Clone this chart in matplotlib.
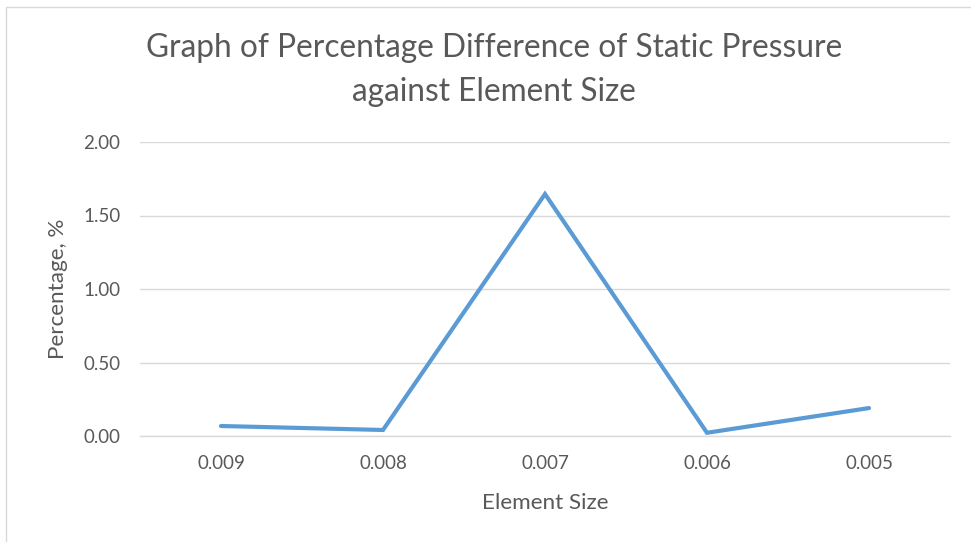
import matplotlib
matplotlib.use("Agg")
import matplotlib.pyplot as plt
from matplotlib.patches import Rectangle

categories = ["0.009", "0.008", "0.007", "0.006", "0.005"]
values = [0.068, 0.041, 1.646, 0.022, 0.19]
yticks = [0.0, 0.5, 1.0, 1.5, 2.0]

plt.rcParams['font.family'] = ['Lato', 'DejaVu Sans']
W, H = 971, 542
fig = plt.figure(figsize=(W/100, H/100), dpi=100)
ax = fig.add_axes([140/W, 1-436/H, 810/W, 294/H])

x = list(range(len(categories)))
ax.plot(x, values, color='#5b9bd5', linewidth=3.0, solid_capstyle='round', solid_joinstyle='miter')
ax.set_xlim(-0.5, len(categories)-0.5)
ax.set_ylim(0, 2.0)
ax.set_yticks(yticks)
ax.set_yticklabels([f"{v:.2f}" for v in yticks])
ax.set_xticks(x)
ax.set_xticklabels(categories)
ax.yaxis.grid(True, color='#d9d9d9', linewidth=1.0)
ax.set_axisbelow(True)
for s in ['top', 'right', 'left']:
    ax.spines[s].set_visible(False)
ax.spines['bottom'].set_color('#d9d9d9')
ax.spines['bottom'].set_linewidth(1.0)
ax.tick_params(axis='both', length=0, labelsize=13.5, labelcolor='#595959')
ax.tick_params(axis='y', pad=14)
ax.tick_params(axis='x', pad=14)

fig.text(545/W, 1-503/H, "Element Size", ha='center', va='center', fontsize=16.2, color='#595959')
fig.text(58/W, 1-289/H, "Percentage, %", ha='center', va='center', rotation=90, fontsize=16.2, color='#595959')

fig.text(494/W, 1-48/H, "Graph of Percentage Difference of Static Pressure",
         ha='center', va='center', fontsize=22.8, color='#595959')
fig.text(494/W, 1-92/H, "against Element Size",
         ha='center', va='center', fontsize=22.8, color='#595959')

fig.patches.append(Rectangle((6/W, -0.1), 1.2, 1.1 - 7/H, transform=fig.transFigure,
                             fill=False, edgecolor='#d9d9d9', linewidth=1.0))
fig.savefig("out.png", dpi=100)
